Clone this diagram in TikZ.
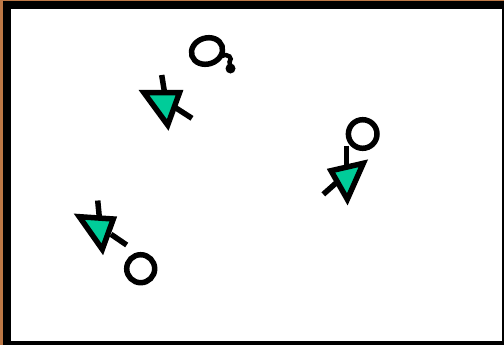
\documentclass[tikz,border=0pt]{standalone}
\begin{document}
\begin{tikzpicture}[x=1bp,y=-1bp,
  ln/.style={line width=5.5bp,line cap=butt},
  tri/.style={line width=5.5bp,line join=miter,fill=tealgreen,draw=black},
  ring/.style={line width=5.5bp,draw=black}]
\definecolor{tealgreen}{RGB}{0,204,153}
\definecolor{copper}{RGB}{190,120,70}
\useasboundingbox (0,0) rectangle (504,345);
\fill[copper] (0,0) rectangle (504,345);
\fill[black] (3,1) rectangle (504,345);
\fill[white] (10.5,8.5) rectangle (501.5,341);
% group 1
\draw[ln] (161.7,75) -- (164.3,91);
\draw[ln] (176,108) -- (192,118.3);
\draw[tri] (144,92.7) -- (179.5,92.7) -- (167.7,125) -- cycle;
\draw[ring,rotate around={18:(207,51)}] (207,51) ellipse (15.8 and 13);
\draw[line width=4.5bp] (222,56) .. controls (228,53) and (233,58) .. (229.5,62) -- (230.5,67);
\fill (230.5,68.5) circle (5);
% group 2
\draw[ln] (346.7,145.5) -- (346.7,166);
\draw[ln] (323.3,194.3) -- (336,183);
\draw[tri] (331,170.7) -- (363.3,163.3) -- (347.3,199.3) -- cycle;
\draw[ring] (362.7,134) circle (14.3);
% group 3
\draw[ln] (97.7,200.5) -- (99.3,217);
\draw[ln] (111,234.3) -- (126.7,245);
\draw[tri] (79.3,216.7) -- (113.3,219) -- (102.3,249.3) -- cycle;
\draw[ring] (140.7,268.7) circle (14);
\end{tikzpicture}
\end{document}
